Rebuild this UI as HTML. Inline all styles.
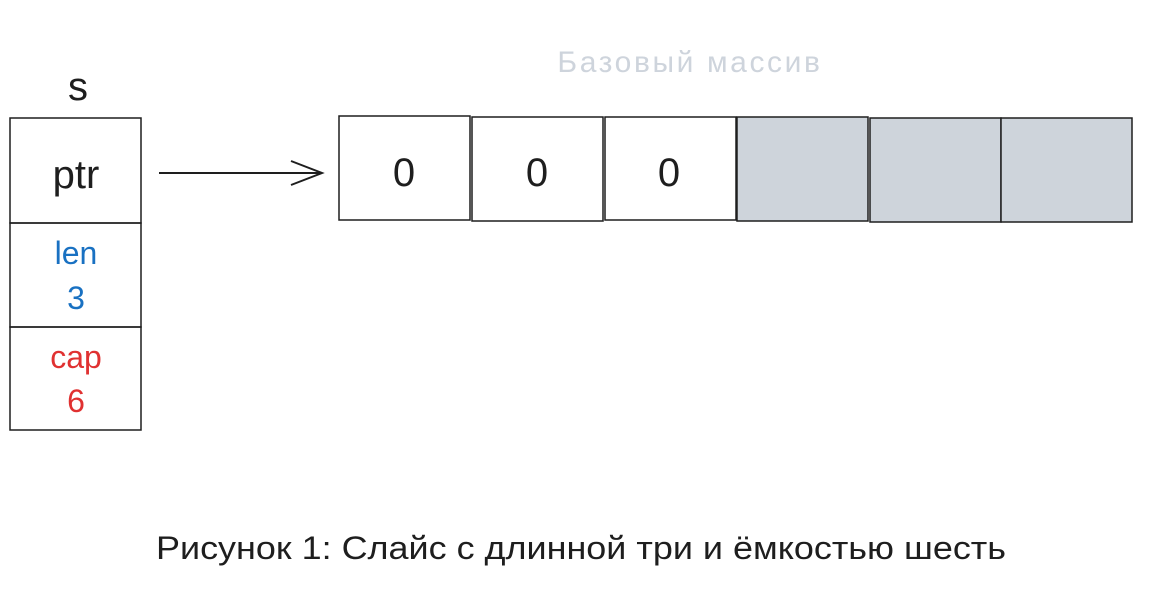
<!DOCTYPE html>
<html><head><meta charset="utf-8"><style>
body{margin:0;background:#fff;width:1167px;height:602px;overflow:hidden}
svg{display:block}
</style></head><body>
<svg width="1167" height="602" xmlns="http://www.w3.org/2000/svg" font-family="Liberation Sans, DejaVu Sans, sans-serif">
<g stroke="#1e1e1e" stroke-width="1.5" fill="none">
<rect x="10" y="118" width="131" height="105"/>
<rect x="10" y="223" width="131" height="104"/>
<rect x="10" y="327" width="131" height="103"/>
<rect x="339" y="116" width="131" height="104" fill="#fff"/>
<rect x="472" y="117" width="131" height="104" fill="#fff"/>
<rect x="605" y="117" width="131" height="103" fill="#fff"/>
<rect x="737" y="117" width="131" height="104" fill="#ced4db"/>
<rect x="870" y="118" width="131" height="104" fill="#ced4db"/>
<rect x="1001" y="118" width="131" height="104" fill="#ced4db"/>
<path d="M159 173 L322 173 M291 161 L322 173 L291 185" stroke-width="2"/>
</g>
<g fill="#1e1e1e" text-anchor="middle" font-size="40">
<text x="78" y="100">s</text>
<text x="76" y="188">ptr</text>
<text x="404" y="186">0</text>
<text x="537" y="186">0</text>
<text x="669" y="186">0</text>
</g>
<g text-anchor="middle" font-size="32">
<text x="76" y="264" fill="#1971c2">len</text>
<text x="76" y="309" fill="#1971c2">3</text>
<text x="76" y="368" fill="#e03131">cap</text>
<text x="76" y="412" fill="#e03131">6</text>
</g>
<text x="690" y="72" text-anchor="middle" font-size="30" fill="#ced4dc" letter-spacing="2.6">Базовый массив</text>
<text x="581" y="559" text-anchor="middle" font-size="32" fill="#1e1e1e" textLength="850" lengthAdjust="spacingAndGlyphs">Рисунок 1: Слайс с длинной три и ёмкостью шесть</text>
</svg>
</body></html>
